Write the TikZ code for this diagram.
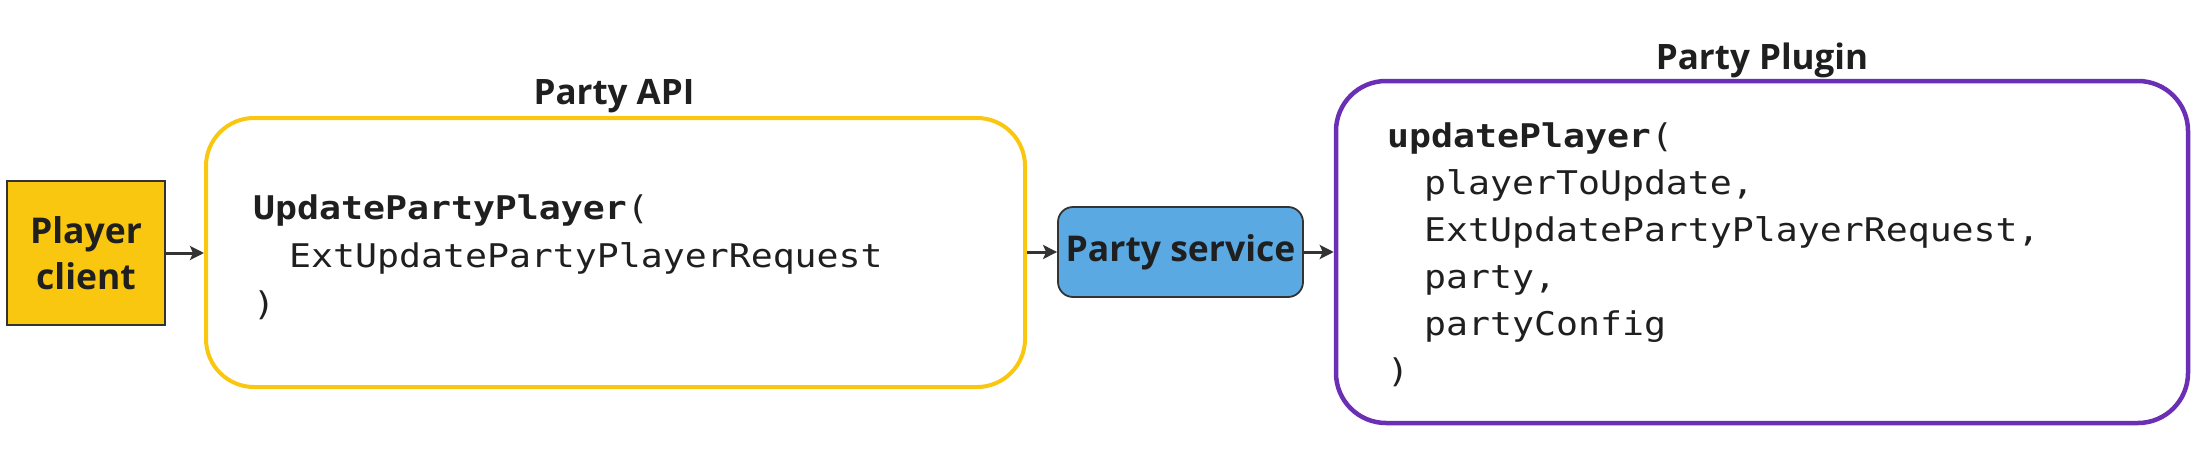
\documentclass[tikz,border=0pt]{standalone}
\usepackage{fontspec}
\setmainfont{Open Sans}
\newfontfamily\codefont[FakeStretch=1.12]{DejaVu Sans Mono}
\usetikzlibrary{arrows.meta}
\definecolor{ylw}{HTML}{F9C70F}
\definecolor{blu}{HTML}{5AA9E2}
\definecolor{prp}{HTML}{6A2FB5}
\definecolor{ink}{HTML}{1F1F1F}
\definecolor{edge}{HTML}{333333}
\tikzset{
  lbl/.style={font=\fontsize{35.5}{46}\selectfont\bfseries, text=ink, align=center, inner sep=0pt},
  ttl/.style={font=\fontsize{35}{40}\selectfont\bfseries, text=ink, inner sep=0pt},
  codetext/.style={text=ink, align=left, inner sep=0pt},
  clientbox/.style={lbl, draw=edge, line width=2pt, fill=ylw, minimum width=158pt, minimum height=144pt},
  apibox/.style={draw=ylw, line width=4pt, rounded corners=48pt, minimum width=819pt, minimum height=269pt},
  svcbox/.style={lbl, draw=edge, line width=1.8pt, fill=blu, rounded corners=15pt, minimum width=245pt, minimum height=90pt},
  pluginbox/.style={draw=prp, line width=4.5pt, rounded corners=50pt, minimum width=852pt, minimum height=342pt},
  conn/.style={draw=edge, line width=3pt, -{Stealth[length=14pt,width=14pt,inset=3pt]}}
}
\begin{document}
\begin{tikzpicture}[x=1pt,y=-1pt]
\useasboundingbox (0,0) rectangle (2196,455);
\node[clientbox] (client) at (86,253) {Player\\client};
\node[apibox] (api) at (615.5,252.5) {};
\node[svcbox] (svc) at (1180.5,252) {Party service};
\node[pluginbox] (plugin) at (1762,252) {};
\node[ttl, anchor=base] (apititle) at (614,104) {Party API};
\node[ttl, anchor=base] (plugintitle) at (1762,69) {Party Plugin};
\node[codetext, anchor=base west, font=\codefont\fontsize{32.6}{48}\selectfont] (apicode) at (253,315)
  {\textbf{UpdatePartyPlayer}(\\\hspace*{36pt}ExtUpdatePartyPlayerRequest\\)};
\node[codetext, anchor=base west, font=\codefont\fontsize{32.6}{47}\selectfont] (plugincode) at (1387,382)
  {\textbf{updatePlayer}(\\\hspace*{37pt}playerToUpdate,\\\hspace*{37pt}ExtUpdatePartyPlayerRequest,\\\hspace*{37pt}party,\\\hspace*{37pt}partyConfig\\)};
\draw[conn] (client.east) -- (client.east -| api.west);
\draw[conn] (svc.west -| api.east) -- (svc.west);
\draw[conn] (svc.east) -- (svc.east -| plugin.west);
\end{tikzpicture}
\end{document}
